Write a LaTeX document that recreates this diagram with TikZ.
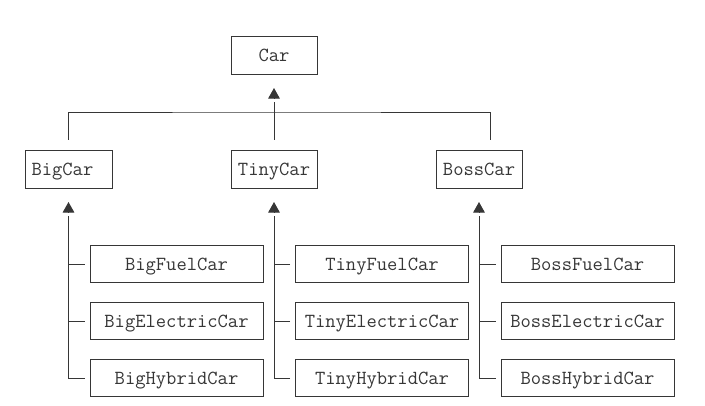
\documentclass[tikz,border=0pt]{standalone}
\usetikzlibrary{arrows.meta}
\definecolor{ink}{HTML}{363636}
\tikzset{
  cls/.style={draw=ink, line width=1pt, text=ink, inner sep=0pt,
    font=\ttfamily\fontsize{20}{22}\selectfont,
    text height=12.8pt, text depth=0.6pt,
    minimum width=86pt, minimum height=38pt},
  sub/.style={cls, minimum width=173pt, minimum height=37pt},
  link/.style={draw=ink, line width=1pt},
  inherit/.style={link, shorten >=27.5pt},
  head/.style={link, -{Triangle[width=11.5pt,length=10.5pt]}}
}
\begin{document}
\begin{tikzpicture}[x=1pt,y=-1pt]
  \useasboundingbox (0,0) rectangle (705,405);
  \node[cls] (car) at (274,55) {Car};
  \node[cls, text width=74pt, align=left, inner xsep=6.5pt] (bigcar) at (68.5,169) {BigCar};
  \node[cls] (tinycar) at (274,169) {TinyCar};
  \node[cls] (bosscar) at (479,169) {BossCar};
  \node[sub] (bigfuel) at (176.5,264) {BigFuelCar};
  \node[sub] (bigelectric) at (176.5,321) {BigElectricCar};
  \node[sub] (bighybrid) at (176.5,378) {BigHybridCar};
  \node[sub] (tinyfuel) at (382,264) {TinyFuelCar};
  \node[sub] (tinyelectric) at (382,321) {TinyElectricCar};
  \node[sub] (tinyhybrid) at (382,378) {TinyHybridCar};
  \node[sub] (bossfuel) at (587.5,264) {BossFuelCar};
  \node[sub] (bosselectric) at (587.5,321) {BossElectricCar};
  \node[sub] (bosshybrid) at (587.5,378) {BossHybridCar};
  \coordinate (bus) at (274,112);
  \begin{scope}
    \draw[inherit, shorten <=10pt] (tinycar.north) -- (car.south);
    \draw[link] ([yshift=10pt]bigcar.north) |- (bus)
      -| ([xshift=11pt,yshift=10pt]bosscar.north);
    \foreach \p in {big,tiny,boss} {
      \draw[inherit] ([xshift=-5pt]\p hybrid.west) -| (\p car.south);
      \draw[link] ([xshift=-5pt]\p fuel.west) -- (\p fuel.west -| \p car.south);
      \draw[link] ([xshift=-5pt]\p electric.west) -- (\p electric.west -| \p car.south);
    }
    \foreach \p in {car,bigcar,tinycar,bosscar}
      \draw[head] ([yshift=-24pt]\p.south) -- ([yshift=-13.5pt]\p.south);
  \end{scope}
\end{tikzpicture}
\end{document}
